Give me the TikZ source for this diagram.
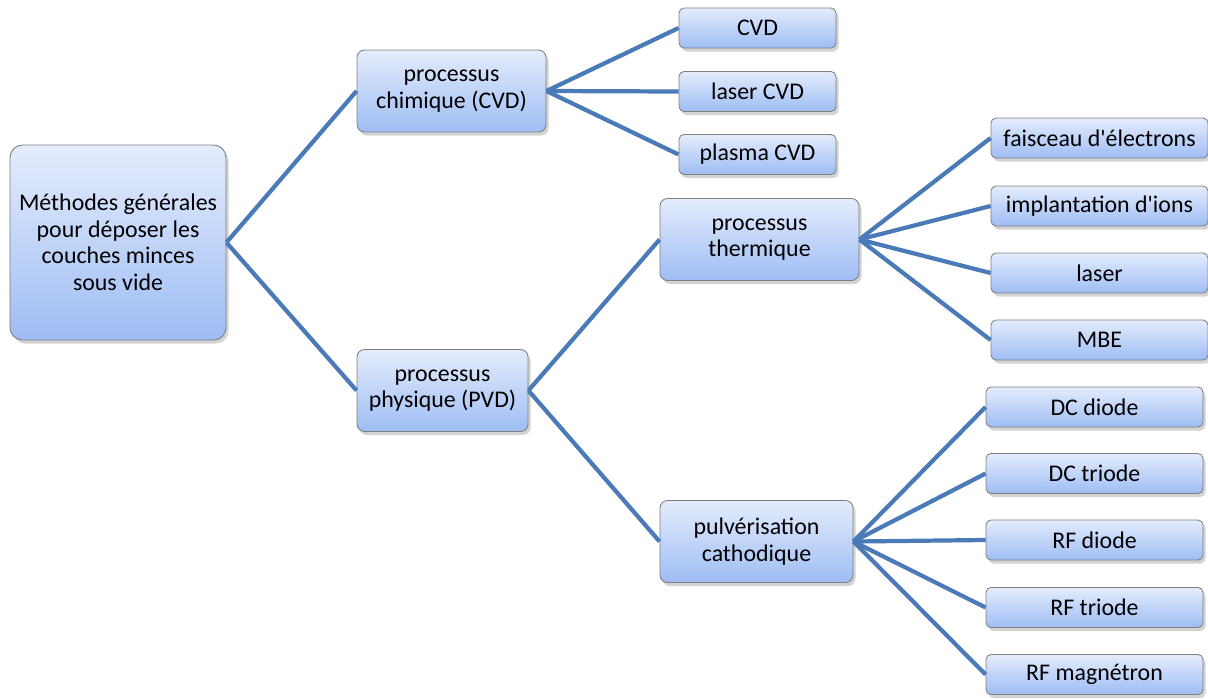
\documentclass[tikz,border=0pt]{standalone}
\usepackage{fontspec}
\setmainfont{Carlito}
\usepackage{xcolor}
\usepackage{tikz}
\usetikzlibrary{shadows}

\definecolor{boxtop}{RGB}{228,236,252}
\definecolor{boxbot}{RGB}{158,189,244}
\definecolor{boxline}{RGB}{128,128,128}
\definecolor{link}{RGB}{74,122,184}

\begin{document}
\begin{tikzpicture}[
  every node/.style={draw=boxline, line width=0.5pt, rounded corners=0.1cm,
    top color=boxtop, bottom color=boxbot, inner sep=0pt, align=center,
    font=\fontsize{13.6}{15.1}\selectfont,
    drop shadow={opacity=0.35, shadow xshift=0.05cm, shadow yshift=-0.07cm}},
  rootbox/.style={minimum width=4.32cm, minimum height=3.9cm, rounded corners=0.25cm},
  midbox/.style={minimum height=1.64cm, rounded corners=0.15cm},
  leafbox/.style={minimum width=3.14cm, minimum height=0.8cm},
  endbox/.style={minimum width=4.34cm, minimum height=0.8cm},
  link/.style={draw=link, line width=2.4pt}
]
\useasboundingbox (0,0) rectangle (24.16,-13.96);

% racine et premier niveau
\node[rootbox] (root) at (2.36,-4.85) {M\'ethodes g\'en\'erales\\pour d\'eposer les\\couches minces\\sous vide};
\node[midbox, minimum width=3.78cm] (chem) at (9.03,-1.82) {processus\\chimique (CVD)};
\node[midbox, minimum width=3.42cm] (phys) at (8.85,-7.81) {processus\\physique (PVD)};

% branche CVD
\node[leafbox] (cvd) at (15.15,-0.56) {CVD};
\node[leafbox] (lcvd) at (15.15,-1.83) {laser CVD};
\node[leafbox] (pcvd) at (15.15,-3.09) {plasma CVD};

% branche PVD
\node[midbox, minimum width=3.98cm] (therm) at (15.19,-4.79) {processus\\thermique};
\node[midbox, minimum width=3.86cm] (pulv) at (15.13,-10.83) {pulv\'erisation\\cathodique};

\node[endbox] (fe) at (21.99,-2.76) {faisceau d\textquotesingle\'electrons};
\node[endbox] (ii) at (21.99,-4.12) {implantation d\textquotesingle ions};
\node[endbox] (las) at (21.99,-5.46) {laser};
\node[endbox] (mbe) at (21.99,-6.80) {MBE};

\node[endbox] (dcd) at (21.89,-8.14) {DC diode};
\node[endbox] (dct) at (21.89,-9.47) {DC triode};
\node[endbox] (rfd) at (21.89,-10.80) {RF diode};
\node[endbox] (rft) at (21.89,-12.15) {RF triode};
\node[endbox] (rfm) at (21.89,-13.49) {RF magn\'etron};

% liaisons
\foreach \c in {chem,phys}
  \draw[link] (root.east) -- (\c.west);
\foreach \c in {cvd,lcvd,pcvd}
  \draw[link] (chem.east) -- (\c.west);
\foreach \c in {therm,pulv}
  \draw[link] (phys.east) -- (\c.west);
\foreach \c in {fe,ii,las,mbe}
  \draw[link] (therm.east) -- (\c.west);
\foreach \c in {dcd,dct,rfd,rft,rfm}
  \draw[link] (pulv.east) -- (\c.west);
\end{tikzpicture}
\end{document}
